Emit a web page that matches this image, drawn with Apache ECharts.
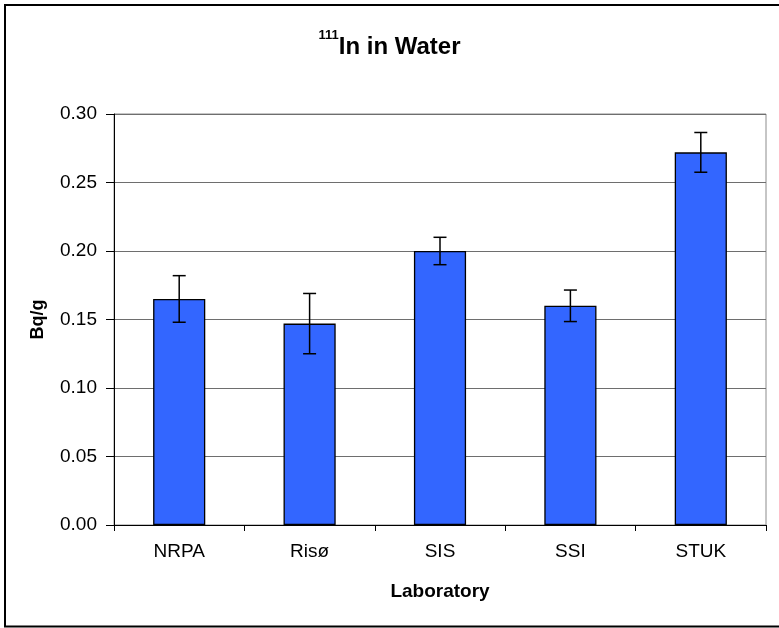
<!DOCTYPE html>
<html>
<head>
<meta charset="utf-8">
<script src="https://cdn.jsdelivr.net/npm/echarts@6/dist/echarts.min.js"></script>
<style>
  html, body { margin: 0; padding: 0; background: #fff; }
  #chart { width: 779px; height: 628px; }
</style>
</head>
<body>
<div id="chart"></div>
<script>
const labs = ["NRPA", "Risø", "SIS", "SSI", "STUK"];
const activity = [0.165, 0.147, 0.200, 0.160, 0.272];
const uncertainty = [0.017, 0.022, 0.010, 0.0115, 0.0145];
const yTicks = [0.00, 0.05, 0.10, 0.15, 0.20, 0.25, 0.30];

const font = "Arial, 'Liberation Sans', sans-serif";

const errorData = labs.map((lab, i) => [i, activity[i] - uncertainty[i], activity[i] + uncertainty[i]]);

const renderError = (params, api) => {
  const x = api.value(0);
  const lo = api.coord([x, api.value(1)]);
  const hi = api.coord([x, api.value(2)]);
  const half = 6.5;
  const style = { stroke: "#000", lineWidth: 1.5 };
  return {
    type: "group",
    children: [
      { type: "line", shape: { x1: hi[0], y1: hi[1], x2: lo[0], y2: lo[1] }, style },
      { type: "line", shape: { x1: hi[0] - half, y1: hi[1], x2: hi[0] + half, y2: hi[1] }, style },
      { type: "line", shape: { x1: lo[0] - half, y1: lo[1], x2: lo[0] + half, y2: lo[1] }, style },
    ],
  };
};

const chart = echarts.init(document.getElementById("chart"));
chart.setOption({
  animation: false,
  backgroundColor: "#fff",
  textStyle: { fontFamily: font },
  title: {
    text: "{sup|111}{main|In in Water}",
    left: "center",
    top: 29,
    padding: 0,
    textStyle: {
      rich: {
        sup: { fontSize: 13, fontWeight: "bold", color: "#000", verticalAlign: "top", lineHeight: 15, fontFamily: font },
        main: { fontSize: 24, fontWeight: "bold", color: "#000", lineHeight: 36, fontFamily: font },
      },
    },
  },
  graphic: [
    {
      type: "rect",
      shape: { x: 5, y: 5, width: 800, height: 621.5 },
      style: { fill: "none", stroke: "#000", lineWidth: 2 },
      silent: true,
    },
  ],
  grid: {
    left: 114,
    top: 114,
    right: 13,
    bottom: 103,
    show: true,
    borderColor: "#8c8c8c",
    borderWidth: 1,
  },
  xAxis: {
    type: "category",
    data: labs,
    name: "Laboratory",
    nameLocation: "middle",
    nameGap: 57,
    nameTextStyle: { fontSize: 19, fontWeight: "bold", color: "#000", fontFamily: font },
    axisLine: { lineStyle: { color: "#000", width: 1 } },
    axisTick: { show: true, length: 6, lineStyle: { color: "#000" } },
    axisLabel: { fontSize: 19, color: "#000", margin: 17, fontFamily: font },
  },
  yAxis: {
    type: "value",
    min: yTicks[0],
    max: yTicks[yTicks.length - 1],
    interval: yTicks[1] - yTicks[0],
    name: "Bq/g",
    nameLocation: "middle",
    nameGap: 67,
    nameTextStyle: { fontSize: 18, fontWeight: "bold", color: "#000", fontFamily: font },
    axisLine: { show: true, lineStyle: { color: "#000", width: 1 } },
    axisTick: { show: true, length: 8, lineStyle: { color: "#000" } },
    axisLabel: { fontSize: 19, color: "#000", margin: 17, fontFamily: font, formatter: (v) => v.toFixed(2) },
    splitLine: { show: true, lineStyle: { color: "#6e6e6e", width: 1 } },
  },
  series: [
    {
      type: "bar",
      data: activity,
      barWidth: "40%",
      itemStyle: { color: "#3366ff", borderColor: "#000", borderWidth: 1.3 },
    },
    {
      type: "custom",
      data: errorData,
      renderItem: renderError,
      encode: { x: 0, y: [1, 2] },
      z: 10,
    },
  ],
});
</script>
</body>
</html>
